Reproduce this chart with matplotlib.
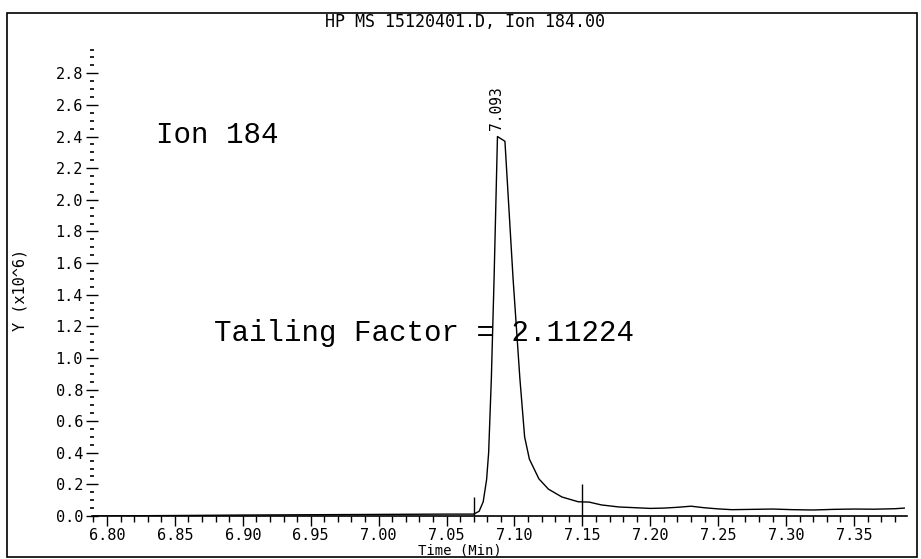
import matplotlib.pyplot as plt
from matplotlib.patches import Rectangle
from matplotlib.ticker import MultipleLocator, FormatStrFormatter

# chromatogram trace, ion 184 (time in min, abundance x10^6)
time_min = [6.790, 6.850, 6.900, 6.950, 7.000, 7.050, 7.070, 7.074, 7.077,
            7.0795, 7.081, 7.083, 7.085, 7.0875, 7.093, 7.099, 7.104, 7.1075,
            7.111, 7.118, 7.125, 7.135, 7.147, 7.155, 7.164, 7.177, 7.190,
            7.200, 7.210, 7.220, 7.230, 7.240, 7.250, 7.260, 7.275, 7.290,
            7.305, 7.320, 7.335, 7.350, 7.365, 7.380, 7.387]
abund = [0.000, 0.003, 0.006, 0.008, 0.010, 0.012, 0.012, 0.030, 0.090,
         0.23, 0.40, 0.87, 1.50, 2.40, 2.37, 1.50, 0.87, 0.50,
         0.36, 0.235, 0.17, 0.12, 0.09, 0.088, 0.07, 0.057, 0.052,
         0.048, 0.050, 0.055, 0.062, 0.052, 0.045, 0.040, 0.042, 0.044,
         0.040, 0.038, 0.042, 0.044, 0.043, 0.046, 0.050]

peak_rt = 7.093
peak_top = 2.40
int_start, int_end = 7.070, 7.150
start_h, end_h = 0.12, 0.20
tailing = 2.11224

mono = "DejaVu Sans Mono"
serif_mono = "Liberation Mono"

fig = plt.figure(figsize=(9.21, 5.59), dpi=100)
ax = fig.add_axes([92/921, 1-516/559, (907-92)/921, (516-48)/559])

ax.plot(time_min, abund, color="k", linewidth=1.0)
ax.vlines([int_start, int_end], 0, [start_h, end_h], color="k", linewidth=1.0)

ax.set_xlim(6.789, 7.389)
ax.set_ylim(0, 2.96)

for s in ["top", "right", "left"]:
    ax.spines[s].set_visible(False)
ax.spines["bottom"].set_linewidth(1.2)

ax.xaxis.set_major_locator(MultipleLocator(0.05))
ax.xaxis.set_minor_locator(MultipleLocator(0.01))
ax.xaxis.set_major_formatter(FormatStrFormatter("%.2f"))
ax.yaxis.set_major_locator(MultipleLocator(0.2))
ax.yaxis.set_minor_locator(MultipleLocator(0.05))
ax.yaxis.set_major_formatter(FormatStrFormatter("%.1f"))

ax.tick_params(axis="x", which="major", direction="out", length=7, width=1, pad=2)
ax.tick_params(axis="x", which="minor", direction="out", length=4, width=1)
ax.tick_params(axis="y", which="major", direction="inout", length=9, width=1, pad=2)
ax.tick_params(axis="y", which="minor", direction="inout", length=3, width=1.2)
for lab in ax.get_xticklabels() + ax.get_yticklabels():
    lab.set_fontfamily(mono)
    lab.set_fontsize(11)

ax.text(peak_rt - 0.006, peak_top + 0.04, f"{peak_rt:.3f}", rotation=90,
        ha="center", va="bottom", fontsize=10.5, family=mono)
ax.text(6.836, 2.41, "Ion 184", ha="left", va="center",
        fontsize=21, family=serif_mono)
ax.text(6.879, 1.16, f"Tailing Factor = {tailing:.5f}", ha="left", va="center",
        fontsize=21, family=serif_mono)

fig.text(465/921, 1-22/559, "HP MS 15120401.D, Ion 184.00", ha="center",
         va="center", fontsize=12, family=mono)
fig.text(20/921, 1-290/559, "Y (x10^6)", rotation=90, ha="center",
         va="center", fontsize=11, family=mono)
fig.text(460/921, 1-551/559, "Time (Min)", ha="center", va="center",
         fontsize=10, family=mono)

fig.add_artist(Rectangle((7/921, 1-557/559), (917-7)/921, (557-13)/559,
                         transform=fig.transFigure, fill=False,
                         edgecolor="k", linewidth=1.2))

fig.savefig("out.png", dpi=100)
